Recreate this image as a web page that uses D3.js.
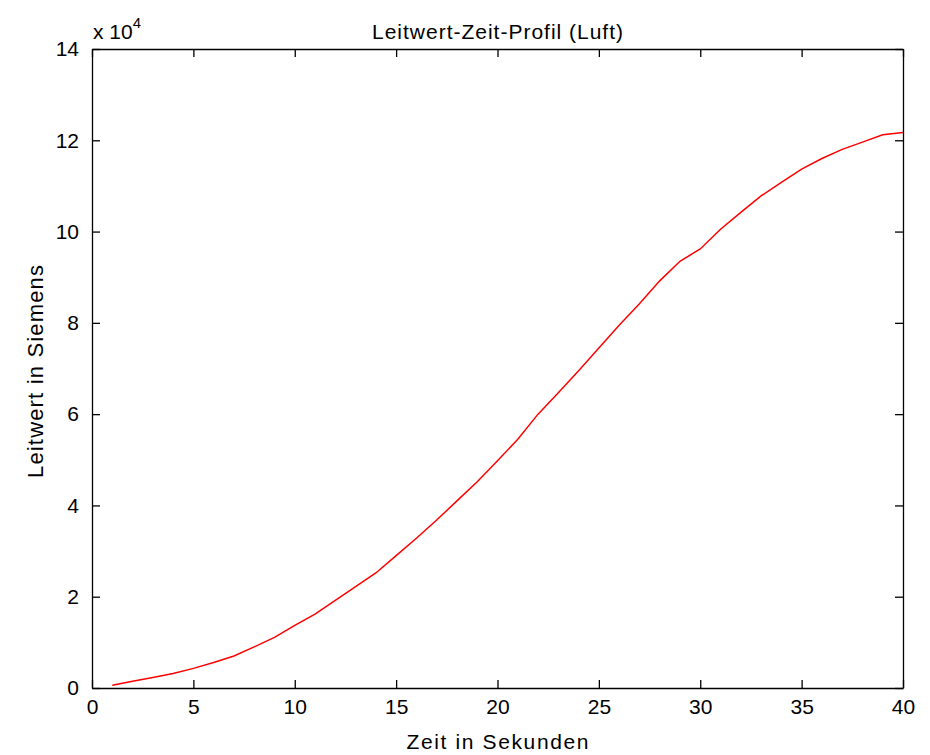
<!DOCTYPE html>
<html>
<head>
<meta charset="utf-8">
<script src="https://cdn.jsdelivr.net/npm/d3@7"></script>
<style>
  body { margin: 0; background: #fff; }
  text { font-family: "Liberation Sans", Arial, sans-serif; fill: #000; }
</style>
</head>
<body>
<div id="chart-wrapper"></div>
<script>
// time in seconds
const zeit = [1, 2, 3, 4, 5, 6, 7, 8, 9, 10, 11, 12, 13, 14, 15, 16, 17, 18, 19, 20,
  21, 22, 23, 24, 25, 26, 27, 28, 29, 30, 31, 32, 33, 34, 35, 36, 37, 38, 39, 40];
// conductance (Siemens)
const leitwert = [600, 1500, 2300, 3200, 4300, 5600, 7000, 9000, 11100, 13700,
  16200, 19200, 22200, 25200, 29000, 32800, 36800, 41000, 45200, 49800,
  54500, 60000, 64700, 69500, 74500, 79500, 84200, 89200, 93500, 96200,
  100500, 104200, 107800, 110800, 113700, 116000, 118000, 119600, 121200, 121700];

const xTicks = [0, 5, 10, 15, 20, 25, 30, 35, 40];
const yTicks = [0, 2, 4, 6, 8, 10, 12, 14]; // x 10^4

const data = zeit.map((t, i) => ({ t: t, v: leitwert[i] }));

let dimensions = {
  width: 930,
  height: 755,
  margin: { top: 49, right: 27, bottom: 67, left: 92 },
};
dimensions.boundedWidth = dimensions.width - dimensions.margin.left - dimensions.margin.right;
dimensions.boundedHeight = dimensions.height - dimensions.margin.top - dimensions.margin.bottom;

const wrapper = d3.select("#chart-wrapper")
  .append("svg")
  .attr("width", dimensions.width)
  .attr("height", dimensions.height);

const bounds = wrapper.append("g")
  .attr("transform", `translate(${dimensions.margin.left},${dimensions.margin.top})`);

const xScale = d3.scaleLinear().domain([0, 40]).range([0, dimensions.boundedWidth]);
const yScale = d3.scaleLinear().domain([0, 14]).range([dimensions.boundedHeight, 0]);

// data line
const lineGenerator = d3.line()
  .x(d => xScale(d.t))
  .y(d => yScale(d.v / 1e4));

bounds.append("path")
  .datum(data)
  .attr("d", lineGenerator)
  .attr("fill", "none")
  .attr("stroke", "#ff0000")
  .attr("stroke-width", 1.5);

// axes, ticks inward like matlab
const tickLen = 8;
const styleAxis = g => {
  g.select(".domain").attr("stroke", "#000").attr("stroke-width", 1.3);
  g.selectAll(".tick line").attr("stroke", "#000").attr("stroke-width", 1.3);
  g.selectAll(".tick text").style("font-size", "21px").style("font-family", "'Liberation Sans', Arial, sans-serif");
};

bounds.append("g")
  .attr("transform", `translate(0,${dimensions.boundedHeight})`)
  .call(d3.axisBottom(xScale).tickValues(xTicks).tickSizeInner(-tickLen).tickSizeOuter(0).tickPadding(11))
  .call(styleAxis);

bounds.append("g")
  .call(d3.axisTop(xScale).tickValues(xTicks).tickSizeInner(-tickLen).tickSizeOuter(0).tickFormat(""))
  .call(styleAxis);

bounds.append("g")
  .call(d3.axisLeft(yScale).tickValues(yTicks).tickSizeInner(-tickLen).tickSizeOuter(0).tickPadding(13))
  .call(styleAxis);

bounds.append("g")
  .attr("transform", `translate(${dimensions.boundedWidth},0)`)
  .call(d3.axisRight(yScale).tickValues(yTicks).tickSizeInner(-tickLen).tickSizeOuter(0).tickFormat(""))
  .call(styleAxis);

// exponent label
const expo = wrapper.append("text")
  .attr("x", 93)
  .attr("y", 39)
  .style("font-size", "21px");
expo.append("tspan").text("x 10");
expo.append("tspan").attr("dy", -11).style("font-size", "15px").text("4");

// title
wrapper.append("text")
  .attr("x", dimensions.margin.left + dimensions.boundedWidth / 2)
  .attr("y", 39)
  .attr("text-anchor", "middle")
  .style("font-size", "21px")
  .attr("textLength", 251)
  .text("Leitwert-Zeit-Profil (Luft)");

// axis labels
wrapper.append("text")
  .attr("x", dimensions.margin.left + dimensions.boundedWidth / 2)
  .attr("y", 749)
  .attr("text-anchor", "middle")
  .style("font-size", "21px")
  .attr("textLength", 182)
  .text("Zeit in Sekunden");

wrapper.append("text")
  .attr("transform", `translate(43,${dimensions.margin.top + dimensions.boundedHeight / 2 + 3}) rotate(-90)`)
  .attr("text-anchor", "middle")
  .style("font-size", "22px")
  .attr("textLength", 213)
  .text("Leitwert in Siemens");
</script>
</body>
</html>
